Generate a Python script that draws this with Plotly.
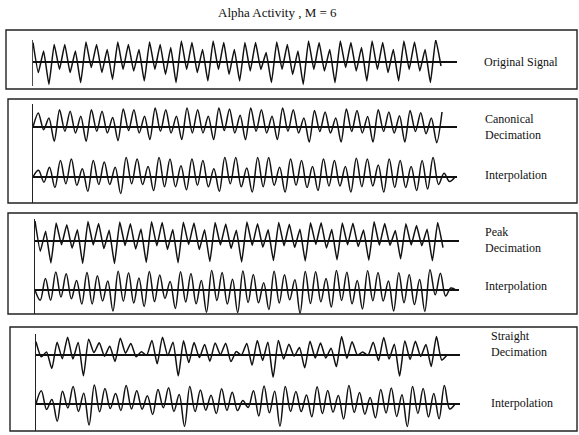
import plotly.graph_objects as go

W, H = 579, 435

# ---------------- data (extrema of each trace) ----------------
title_text = "Alpha Activity , M = 6"
label_texts = ["Original Signal", "Canonical<br>Decimation", "Interpolation",
               "Peak<br>Decimation", "Interpolation",
               "Straight<br>Decimation", "Interpolation"]

original_signal = [
    0.97, -0.53, 0.55, -1.12, 0.88, -0.37, 0.88, -0.53, 0.55, -1.03, 1.0, -0.28, 0.88, -0.53,
    0.63, -0.87, 1.0, -0.37, 0.88, -0.45, 0.63, -0.95, 1.0, -0.37, 0.88, -0.62, 0.72, -1.03,
    1.05, -0.37, 0.97, -0.53, 0.63, -0.95, 1.05, -0.37, 0.97, -0.62, 0.63, -0.95, 0.97,
    -0.45, 0.97, -0.37, 0.47, -1.03, 1.0, -0.37, 0.88, -0.62, 0.55, -1.12, 1.05, -0.37, 0.97,
    -0.45, 0.63, -1.03, 1.05, -0.28, 0.97, -0.45, 0.72, -0.95, 1.05, -0.37, 0.97, -0.53, 0.63,
    -0.95, 1.05, -0.37, 1.0, -0.45, 0.63, -1.03, 1.13, -0.2]

canonical_decimation = [
    0.0, 0.93, -0.18, 0.6, -0.95, 1.15, -0.29, 1.05, -0.4, 0.71, -0.95, 1.15, -0.29, 1.05,
    -0.4, 0.64, -0.91, 1.2, -0.24, 1.15, -0.4, 0.71, -0.84, 1.27, -0.29, 1.15, -0.4, 0.71,
    -0.84, 1.27, -0.4, 1.15, -0.4, 0.71, -0.84, 1.27, -0.24, 1.2, -0.4, 0.78, -0.84, 1.27,
    -0.29, 1.15, -0.4, 0.71, -0.84, 1.27, -0.29, 1.15, -0.4, 0.6, -1.0, 1.1, -0.3, 1.0, -0.4,
    0.6, -1.0, 1.2, -0.3, 1.1, -0.4, 0.7, -1.0, 1.15, -0.3, 1.0, -0.4, 0.75, -1.0, 1.1, -0.3,
    0.95, -0.45, 0.6, -1.05, 1.0]

canonical_interpolation = [
    0.0, 0.45, -0.35, 0.65, -0.7, 1.1, -0.45, 1.2, -0.55, 0.55, -0.95, 1.1, -0.5, 1.0, -0.5,
    0.65, -1.1, 1.3, -0.45, 1.2, -0.5, 0.7, -0.9, 1.3, -0.65, 1.2, -0.65, 0.75, -0.85, 1.2,
    -0.55, 1.1, -0.65, 0.55, -0.95, 1.3, -0.45, 1.3, -0.65, 0.6, -1.0, 1.3, -0.65, 1.3, -0.55,
    0.65, -1.0, 1.2, -0.55, 1.1, -0.7, 0.7, -0.9, 1.2, -0.6, 1.1, -0.6, 0.7, -1.0, 1.25, -0.65,
    1.2, -0.6, 0.8, -1.0, 1.2, -0.7, 1.1, -0.7, 0.7, -0.9, 1.1, -0.8, 1.3, -0.5, 0.25, -0.3, 0.0]

peak_decimation = [
    1.0, -0.51, 0.49, -1.1, 0.9, -0.19, 0.81, -0.36, 0.56, -1.12, 0.97, -0.2, 0.88, -0.38,
    0.54, -1.13, 0.95, -0.23, 0.86, -0.4, 0.6, -1.07, 0.96, -0.24, 0.92, -0.42, 0.58, -1.09,
    0.94, -0.18, 0.9, -0.43, 0.56, -1.03, 0.92, -0.2, 0.85, -0.37, 0.54, -1.05, 0.95, -0.22,
    0.86, -0.31, 0.56, -0.98, 0.93, -0.24, 0.84, -0.33, 0.59, -1.0, 0.91, -0.17, 0.91, -0.35,
    0.57, -0.94, 0.9, -0.19, 0.89, -0.28, 0.55, -0.96, 0.96, -0.21, 0.87, -0.22, 0.53, -0.89,
    0.86, -0.2, 0.77, -0.24, 0.59, -0.99, 0.92, -0.33]

peak_interpolation = [
    0.0, -0.51, 0.57, -0.51, 0.9, -0.35, 0.81, -0.44, 0.47, -0.7, 0.88, -0.7, 0.71, -0.55,
    0.45, -1.05, 0.94, -0.56, 0.86, -0.65, 0.6, -0.82, 0.93, -0.58, 0.75, -0.42, 0.42, -0.92,
    0.91, -0.6, 0.82, -0.69, 0.48, -1.11, 0.97, -0.53, 0.88, -0.7, 0.54, -1.13, 0.95, -0.63,
    0.78, -0.64, 0.36, -0.98, 0.94, -0.65, 0.76, -0.49, 0.51, -1.16, 0.92, -0.67, 0.91, -0.59,
    0.57, -0.85, 0.98, -0.52, 0.89, -0.69, 0.47, -0.95, 0.96, -0.54, 0.87, -0.55, 0.45, -1.05,
    0.86, -0.64, 0.77, -0.73, 0.52, -1.07, 1.01, -0.24, 0.84, -0.3, 0.1, 0.0]

straight_decimation = [
    0.66, -0.09, 0.15, -0.68, 0.64, -0.19, 0.89, -0.2, 0.63, -1.04, 0.79, 0.12, 0.61, -0.06,
    0.44, -0.32, 0.84, 0.09, 0.58, -0.09, 0.16, -0.01, 0.73, -0.44, 0.89, -0.03, 0.64, -1.04,
    0.71, -0.38, 0.62, -0.13, 0.53, -0.31, 0.6, 0.02, 0.59, -0.33, 0.17, 0.0, 0.58, -0.51,
    0.73, -0.27, 0.64, -1.11, 0.72, -0.2, 0.54, -0.05, 0.37, -0.64, 0.69, -0.15, 0.6, -0.15,
    0.34, -0.58, 0.92, -0.17, 0.66, -0.01, 0.15, -0.02, 0.64, -0.28, 0.88, -0.2, 0.54, -1.05,
    0.7, -0.22, 0.69, -0.07, 0.52, -0.57, 0.92, -0.25, 0.0]

straight_interpolation = [
    0.0, 0.66, -0.27, 0.23, -0.86, 0.64, -0.2, 0.88, -0.37, 0.54, -1.05, 0.95, -0.39, 0.77,
    -0.23, 0.52, -0.32, 0.92, -0.25, 0.66, -0.26, 0.41, -0.52, 0.73, -0.19, 0.81, -0.37, 0.47,
    -1.12, 0.87, -0.38, 0.7, -0.31, 0.44, -0.48, 0.76, -0.32, 0.59, -0.33, 0.17, -0.17, 0.66,
    -0.6, 0.9, -0.44, 0.64, -1.11, 0.88, -0.37, 0.62, -0.38, 0.45, -0.64, 0.86, -0.48, 0.68,
    -0.41, 0.42, -0.75, 0.92, -0.42, 0.57, -0.51, 0.32, -0.69, 0.72, -0.45, 0.8, -0.62, 0.46,
    -1.13, 0.87, -0.47, 0.77, -0.65, 0.52, -0.74, 0.93, -0.25, 0.0]

series = [original_signal, canonical_decimation, canonical_interpolation,
          peak_decimation, peak_interpolation, straight_decimation, straight_interpolation]

# ---------------- layout geometry (pixels) ----------------
geom = [
    dict(x0=33, xs=441, xe=457, yt=40, yb=86, yc=62, u=20, lx=482, ly=62, sm=0.35, lw=0.8),
    dict(x0=33, xs=442, xe=457, yt=104, yb=152, yc=127, u=15, lx=483, ly=126.5, sm=0.8, lw=1.0),
    dict(x0=33, xs=455, xe=457, yt=152, yb=203, yc=177, u=15, lx=483, ly=175, sm=1.0, lw=1.0),
    dict(x0=35, xs=443, xe=459, yt=219, yb=266, yc=241, u=20, lx=483, ly=240, sm=0.35, lw=1.0),
    dict(x0=35, xs=456, xe=459, yt=266, yb=314, yc=290, u=20, lx=483, ly=286, sm=1.0, lw=1.0),
    dict(x0=36, xs=447, xe=460, yt=334, yb=380, yc=355, u=20, lx=489, ly=344, sm=0.6, lw=1.0),
    dict(x0=36, xs=455, xe=460, yt=380, yb=431, yc=404, u=20, lx=489, ly=403, sm=1.0, lw=1.0),
]
boxes = [(6, 30, 577, 89), (8, 99, 577, 203), (8, 213, 577, 314), (10, 327, 577, 431)]

FONT = "Liberation Serif"
INK = "#111111"
fig = go.Figure()
layout = dict(
    width=W, height=H, margin=dict(l=0, r=0, t=0, b=0),
    paper_bgcolor="white", plot_bgcolor="rgba(0,0,0,0)",
    showlegend=False, hovermode=False,
)

annotations = []
for i, (vals, g) in enumerate(zip(series, geom)):
    k = "" if i == 0 else str(i + 1)
    n = len(vals)
    xs = list(range(n))
    fig.add_trace(go.Scatter(
        x=xs, y=vals, mode="lines", xaxis="x" + k, yaxis="y" + k,
        line=dict(color=INK, width=1.5, shape="spline", smoothing=g["sm"]),
    ))
    xmax = (n - 1) * (g["xe"] - g["x0"]) / (g["xs"] - g["x0"])
    layout["xaxis" + k] = dict(
        domain=[g["x0"] / W, g["xe"] / W], range=[0, xmax], visible=True,
        showgrid=False, zeroline=False, showline=False, showticklabels=False, ticks="",
        anchor="y" + k, fixedrange=True,
    )
    up = (g["yc"] - g["yt"]) / g["u"]
    dn = (g["yb"] - g["yc"]) / g["u"]
    layout["yaxis" + k] = dict(
        domain=[1 - g["yb"] / H, 1 - g["yt"] / H], range=[-dn, up],
        showgrid=False, showticklabels=False, ticks="",
        zeroline=True, zerolinecolor=INK, zerolinewidth=1.5,
        showline=True, linecolor="#222222", linewidth=g["lw"],
        anchor="x" + k, fixedrange=True,
    )
    annotations.append(dict(
        text=label_texts[i], xref="paper", yref="paper",
        x=g["lx"] / W, y=1 - g["ly"] / H, xanchor="left", yanchor="middle",
        align="left", showarrow=False, font=dict(family=FONT, size=12, color=INK),
    ))

annotations.append(dict(
    text=title_text, xref="paper", yref="paper", x=277 / W, y=1 - 13 / H,
    xanchor="center", yanchor="middle", showarrow=False,
    font=dict(family=FONT, size=13, color=INK),
))

shapes = []
for (x0, y0, x1, y1) in boxes:
    shapes.append(dict(type="rect", xref="paper", yref="paper",
                       x0=x0 / W, x1=x1 / W, y0=1 - y1 / H, y1=1 - y0 / H,
                       line=dict(color="#222222", width=1.4), fillcolor="rgba(0,0,0,0)"))

layout["annotations"] = annotations
layout["shapes"] = shapes
fig.update_layout(**layout)
fig.write_html("out.html", config={"displayModeBar": False, "staticPlot": True})
